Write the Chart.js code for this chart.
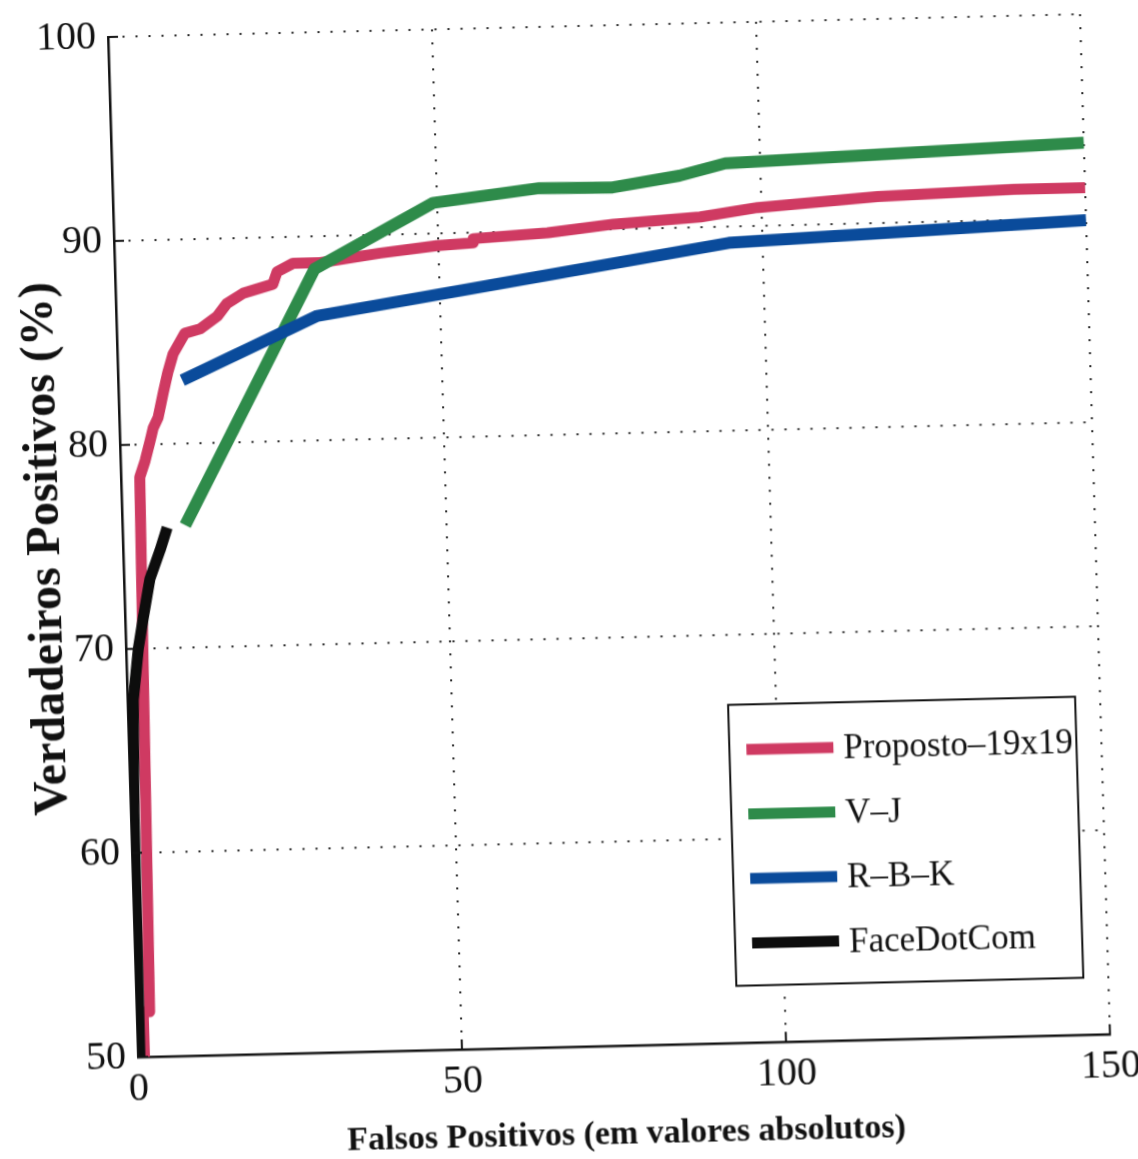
<!DOCTYPE html>
<html>
<head>
<meta charset="utf-8">
<script src="https://cdn.jsdelivr.net/npm/chart.js@4"></script>
<style>
  html, body { margin: 0; padding: 0; background: #fff; overflow: hidden; }
  /* the scanned figure is slightly tilted / sheared */
  #roc { position: absolute; left: 0; top: 0; transform: matrix(1, -0.0235, 0.0294, 1, 0, 0); transform-origin: 108px 37px; }
</style>
</head>
<body>
<canvas id="roc" width="1138" height="1200"></canvas>
<script>
// values
const xTicks = [0, 50, 100, 150];
const yTicks = [50, 60, 70, 80, 90, 100];

const propostoFP = [1.0, 1.0, 2.0, 2.6, 2.9, 3.8, 4.6, 5.2, 6.0, 6.9, 7.7, 8.6, 10.5, 12.9, 15.6, 17.1, 19.7, 24.3, 25.0, 27.5, 31.7, 41, 49.8, 55.4, 55.4, 66.9, 77.1, 90.5, 99.4, 118, 139, 150];
const propostoTP = [50, 52.2, 52.2, 70, 78.4, 79.2, 80.1, 80.8, 81.3, 82.5, 83.5, 84.4, 85.4, 85.6, 86.2, 86.8, 87.3, 87.7, 88.3, 88.7, 88.7, 89.1, 89.4, 89.5, 89.7, 89.9, 90.25, 90.5, 90.9, 91.3, 91.5, 91.5];

const vjFP = [9.7, 30.8, 49.4, 65.8, 77.1, 87.5, 94.6, 150];
const vjTP = [76.0, 88.4, 91.5, 92.1, 92.05, 92.55, 93.1, 93.7];

const rbkFP = [9.9, 31.0, 94.8, 150];
const rbkTP = [83.1, 86.1, 89.2, 89.9];

const faceFP = [0.3, 0.4, 0.5, 0.9, 1.9, 2.8, 4.0, 5.7, 6.9];
const faceTP = [50, 57, 62, 67.5, 70, 71.5, 73.4, 74.8, 75.9];

const serif = "'Liberation Serif', 'Times New Roman', serif";

function pts(xs, ys) {
  return xs.map((x, i) => ({ x: x, y: ys[i] }));
}

// MATLAB style ticks pointing into the plot
const insideTicks = {
  id: 'insideTicks',
  afterDraw(chart) {
    const { ctx, chartArea, scales } = chart;
    ctx.save();
    ctx.strokeStyle = '#111';
    ctx.lineWidth = 2;
    yTicks.forEach(v => {
      const py = scales.y.getPixelForValue(v);
      ctx.beginPath();
      ctx.moveTo(chartArea.left, py);
      ctx.lineTo(chartArea.left + 10, py);
      ctx.stroke();
    });
    xTicks.forEach(v => {
      const px = scales.x.getPixelForValue(v);
      ctx.beginPath();
      ctx.moveTo(px, chartArea.bottom);
      ctx.lineTo(px, chartArea.bottom - 10);
      ctx.stroke();
    });
    ctx.restore();
  }
};

// boxed legend inside the lower right of the plot
const boxLegend = {
  id: 'boxLegend',
  afterDraw(chart) {
    const { ctx, chartArea } = chart;
    const w = 347, h = 281;
    const x0 = chartArea.right - 25 - w;
    const y0 = chartArea.bottom - 57 - h;
    ctx.save();
    ctx.fillStyle = '#fff';
    ctx.fillRect(x0, y0, w, h);
    ctx.lineWidth = 2;
    ctx.strokeStyle = '#111';
    ctx.strokeRect(x0, y0, w, h);
    ctx.font = '35px ' + serif;
    ctx.textBaseline = 'middle';
    chart.data.datasets.forEach((ds, i) => {
      const y = y0 + 45 + i * 64.5;
      ctx.strokeStyle = ds.borderColor;
      ctx.lineWidth = 11;
      ctx.beginPath();
      ctx.moveTo(x0 + 17, y);
      ctx.lineTo(x0 + 104, y);
      ctx.stroke();
      ctx.fillStyle = '#111';
      ctx.fillText(ds.label, x0 + 114, y + 2);
    });
    ctx.restore();
  }
};

const ctx = document.getElementById('roc').getContext('2d');
new Chart(ctx, {
  type: 'line',
  data: {
    datasets: [
      { label: 'Proposto–19x19', data: pts(propostoFP, propostoTP), borderColor: '#cf3a62', borderWidth: 11, order: 4 },
      { label: 'V–J', data: pts(vjFP, vjTP), borderColor: '#2e8b4a', borderWidth: 12, order: 3 },
      { label: 'R–B–K', data: pts(rbkFP, rbkTP), borderColor: '#0a4b9b', borderWidth: 12, order: 2 },
      { label: 'FaceDotCom', data: pts(faceFP, faceTP), borderColor: '#0d0d0d', borderWidth: 11, order: 1 }
    ]
  },
  options: {
    responsive: false,
    animation: false,
    devicePixelRatio: 1,
    layout: { padding: { left: 0, top: 37, right: 58, bottom: 23 } },
    elements: {
      point: { radius: 0 },
      line: { tension: 0, fill: false, borderJoinStyle: 'round' }
    },
    plugins: {
      legend: { display: false },
      tooltip: { enabled: false }
    },
    scales: {
      x: {
        type: 'linear',
        min: 0,
        max: 150,
        afterFit: s => { s.height = 120; },
        afterBuildTicks: s => { s.ticks = xTicks.map(v => ({ value: v })); },
        ticks: { padding: 8, color: '#111', maxRotation: 0, autoSkip: false, font: { family: serif, size: 40 } },
        grid: { color: '#222', lineWidth: 2, drawTicks: false },
        border: { display: true, color: '#111', width: 2.5, dash: [2, 11] },
        title: {
          display: true,
          text: 'Falsos Positivos (em valores absolutos)',
          color: '#111',
          font: { family: serif, size: 34, weight: 'bold' },
          padding: { top: 0, bottom: 10 }
        }
      },
      y: {
        type: 'linear',
        min: 50,
        max: 100,
        afterFit: s => { s.width = 108; },
        afterBuildTicks: s => { s.ticks = yTicks.map(v => ({ value: v })); },
        ticks: { padding: 12, color: '#111', autoSkip: false, font: { family: serif, size: 40 } },
        grid: { color: '#222', lineWidth: 2, drawTicks: false },
        border: { display: true, color: '#111', width: 2.5, dash: [2, 11] },
        title: {
          display: true,
          text: 'Verdadeiros Positivos (%)',
          color: '#111',
          font: { family: serif, size: 48, weight: 'bold' },
          padding: { top: 3, bottom: 0 }
        }
      }
    }
  },
  plugins: [insideTicks, boxLegend]
});
</script>
</body>
</html>
